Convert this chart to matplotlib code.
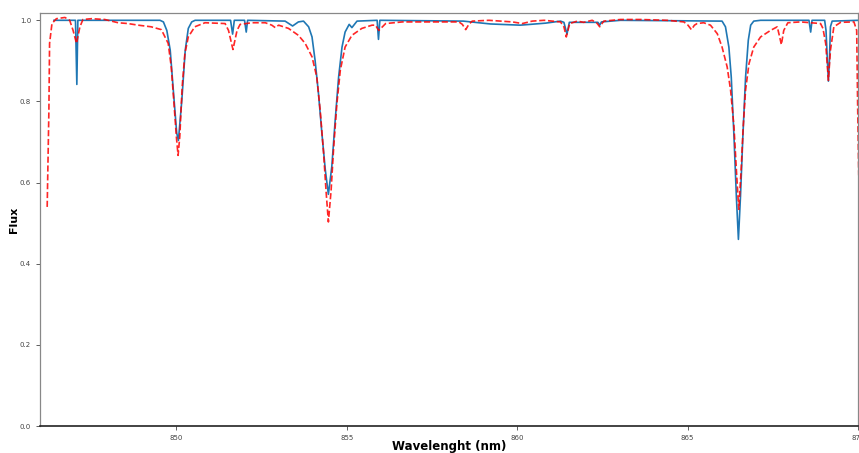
import matplotlib
matplotlib.use("Agg")
import matplotlib.pyplot as plt
import numpy as np

obs_wl = [846.41, 847.00, 847.04, 847.08, 847.11, 849.52, 849.62, 849.72, 849.82, 849.91,
          850.01, 850.06, 850.16, 850.26, 850.35, 850.45, 850.55, 851.59, 851.65, 851.70,
          852.00, 852.05, 852.09, 853.19, 853.41, 853.58, 853.73, 853.88, 853.98, 854.07,
          854.17, 854.27, 854.37, 854.46, 854.56, 854.66, 854.76, 854.86, 854.95, 855.07,
          855.15, 855.30, 855.89, 855.93, 855.97, 858.42, 859.21, 860.09, 860.83, 861.27,
          861.37, 861.46, 861.53, 862.37, 862.42, 862.47, 863.03, 866.01, 866.11, 866.21,
          866.28, 866.36, 866.43, 866.49, 866.55, 866.62, 866.70, 866.78, 866.85, 866.94,
          867.14, 868.56, 868.61, 868.65, 869.02, 869.06, 869.10, 869.13, 869.16, 869.19,
          869.24, 870.02]
obs_flux = [1.000, 1.000, 1.000, 0.842, 1.000, 1.000, 0.996, 0.975, 0.926, 0.828,
            0.722, 0.704, 0.803, 0.926, 0.980, 0.996, 1.000, 1.000, 0.966, 1.000,
            1.000, 0.971, 1.000, 0.998, 0.986, 0.996, 0.998, 0.984, 0.959, 0.901,
            0.819, 0.721, 0.631, 0.571, 0.639, 0.754, 0.860, 0.934, 0.971, 0.990,
            0.982, 0.998, 1.000, 0.953, 1.000, 0.998, 0.991, 0.988, 0.993, 0.998,
            0.995, 0.966, 0.995, 0.995, 0.988, 0.996, 1.000, 0.998, 0.984, 0.934,
            0.860, 0.713, 0.565, 0.460, 0.565, 0.713, 0.860, 0.951, 0.988, 0.998,
            1.000, 1.000, 0.971, 1.000, 1.000, 0.975, 0.901, 0.850, 0.901, 0.984,
            0.998, 1.000]

# Synthetic / model spectrum (dashed red)
mod_wl = [846.21, 846.26, 846.28, 846.35, 846.48, 846.73, 846.87, 846.97, 847.07, 847.17,
          847.26, 847.51, 847.90, 848.29, 848.58, 848.88, 849.26, 849.56, 849.76, 849.85,
          849.93, 850.00, 850.05, 850.10, 850.17, 850.25, 850.35, 850.54, 850.84, 851.43,
          851.53, 851.66, 851.78, 851.87, 852.22, 852.61, 852.80, 852.90, 853.00, 853.29,
          853.58, 853.78, 853.98, 854.12, 854.22, 854.32, 854.39, 854.46, 854.54, 854.61,
          854.71, 854.81, 854.95, 855.15, 855.44, 855.74, 855.84, 855.94, 856.14, 856.63,
          857.51, 858.29, 858.39, 858.49, 858.58, 858.68, 859.17, 859.86, 860.15, 860.44,
          860.79, 861.27, 861.37, 861.44, 861.54, 861.76, 861.95, 862.20, 862.34, 862.42,
          862.54, 863.03, 863.62, 864.40, 864.89, 865.01, 865.11, 865.20, 865.28, 865.47,
          865.67, 865.87, 866.01, 866.16, 866.26, 866.36, 866.43, 866.50, 866.57, 866.63,
          866.70, 866.80, 866.94, 867.14, 867.43, 867.63, 867.70, 867.75, 867.82, 867.94,
          868.31, 868.61, 868.90, 868.97, 869.05, 869.13, 869.19, 869.29, 869.49, 869.88,
          869.96, 869.99, 870.02]
mod_flux = [0.540, 0.778, 0.943, 0.992, 1.004, 1.007, 1.000, 0.975, 0.943, 0.984,
            1.002, 1.004, 1.002, 0.994, 0.992, 0.988, 0.984, 0.977, 0.943, 0.885,
            0.795, 0.713, 0.667, 0.713, 0.836, 0.918, 0.959, 0.984, 0.994, 0.992,
            0.975, 0.928, 0.975, 0.990, 0.994, 0.994, 0.988, 0.982, 0.988, 0.980,
            0.963, 0.943, 0.910, 0.860, 0.778, 0.672, 0.581, 0.503, 0.581, 0.680,
            0.795, 0.877, 0.934, 0.963, 0.980, 0.988, 0.988, 0.975, 0.992, 0.996,
            0.996, 0.996, 0.990, 0.977, 0.990, 0.998, 1.000, 0.996, 0.992, 0.998,
            1.000, 0.996, 0.984, 0.959, 0.992, 0.998, 0.995, 1.000, 0.993, 0.984,
            0.998, 1.002, 1.002, 1.000, 0.996, 0.988, 0.977, 0.988, 0.992, 0.994,
            0.988, 0.967, 0.934, 0.885, 0.828, 0.737, 0.631, 0.534, 0.631, 0.737,
            0.828, 0.893, 0.934, 0.959, 0.975, 0.984, 0.959, 0.940, 0.975, 0.994,
            0.996, 0.994, 0.992, 0.980, 0.943, 0.852, 0.926, 0.984, 0.995, 0.996,
            0.975, 0.778, 0.618]

x_ticks = [850, 855, 860, 865, 870]
y_ticks = [0.0, 0.2, 0.4, 0.6, 0.8, 1.0]

fig = plt.figure(figsize=(8.59, 4.53), dpi=100)
ax = fig.add_axes([0.0466, 0.0596, 0.9523, 0.9117])

ax.plot(obs_wl, obs_flux, color='#1f77b4', lw=1.2)
ax.plot(mod_wl, mod_flux, color='red', ls='--', lw=1.2, alpha=0.85)

ax.set_xlim(846, 870)
ax.set_ylim(0, 1.018)
ax.set_xticks(x_ticks)
ax.set_yticks(y_ticks)
ax.tick_params(labelsize=5, length=3, width=0.6, colors='#444444')

ax.spines['bottom'].set_color('#222222')
ax.spines['bottom'].set_linewidth(1.2)
for s in ['left', 'top', 'right']:
    ax.spines[s].set_color('#888888')
    ax.spines[s].set_linewidth(0.9)

ax.set_xlabel('Wavelenght (nm)', fontsize=8.5, fontweight='bold')
ax.set_ylabel('Flux', fontsize=8, fontweight='bold')
ax.xaxis.set_label_coords(0.5, -0.034)
ax.yaxis.set_label_coords(-0.026, 0.5)

plt.savefig('out.png', dpi=100)
